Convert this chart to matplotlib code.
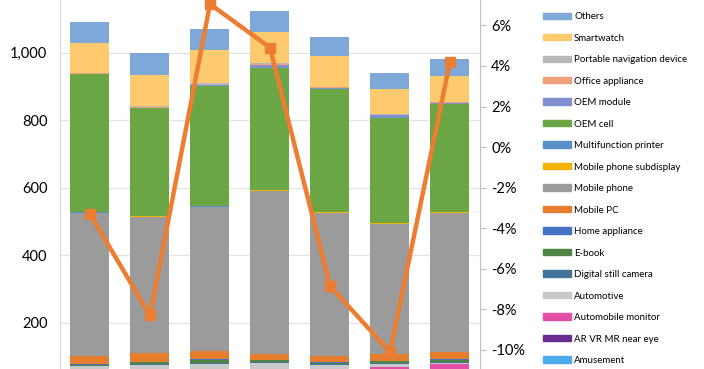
import numpy as np
import matplotlib
matplotlib.use("Agg")
import matplotlib.pyplot as plt
from matplotlib.patches import Patch

plt.rcParams["font.family"] = ["Lato", "DejaVu Sans"]

# ---------------------------------------------------------------------------
# Data (stack order bottom -> top), 7 periods; bottom of chart is cropped
# ---------------------------------------------------------------------------
categories = ["Amusement", "AR VR MR near eye", "Automobile monitor", "Automotive",
              "Digital still camera", "E-book", "Home appliance", "Mobile PC",
              "Mobile phone", "Mobile phone subdisplay", "Multifunction printer",
              "OEM cell", "OEM module", "Office appliance",
              "Portable navigation device", "Smartwatch", "Others"]

amusement     = [10, 10, 10, 10, 10, 10, 10]
ar_vr         = [2, 2, 2, 2, 2, 2, 2]
auto_monitor  = [5, 5, 52, 5, 5, 56, 64.7]
automotive    = [54, 58, 13.6, 64.5, 57.7, 9.6, 4.8]
dsc           = [1, 2, 3, 2, 2, 2, 2]
ebook         = [4, 6, 10, 5, 5, 7, 7]
home_app      = [1, 1, 1, 1, 1, 1, 1]
mobile_pc     = [24, 25, 25.4, 17.5, 19.3, 18.4, 20.8]
mobile_phone  = [423, 405, 425, 484, 423, 386.5, 412.7]
subdisplay    = [2, 2, 2, 2, 2, 2, 2]
mfp           = [1, 1, 1, 1, 1, 1, 1]
oem_cell      = [409, 318, 356, 360, 363.5, 310.5, 319]
oem_module    = [2, 2, 2, 10, 5, 8, 5]
office        = [0.5, 1, 1, 1, 1, 1, 1]
pnd           = [0.5, 4, 5, 3.6, 1.5, 2, 2]
smartwatch    = [91, 91, 99, 91.4, 92, 76, 76]
others        = [60, 67, 62, 63, 54, 48, 49]

growth_pct = [-3.3, -8.3, 7.05, 4.9, -6.85, -10.1, 4.2]

series = [amusement, ar_vr, auto_monitor, automotive, dsc, ebook, home_app,
          mobile_pc, mobile_phone, subdisplay, mfp, oem_cell, oem_module,
          office, pnd, smartwatch, others]

colors = ["#4DADEA", "#6A2C91", "#E44EA7", "#C9C9C9", "#43729B", "#4E8542",
          "#4472C4", "#E67E2E", "#9B9B9B", "#F2B400", "#5B8FC7", "#6AA644",
          "#7F8FD0", "#F0A07A", "#B8B8B8", "#FDCB6E", "#7EA8D8"]

# ---------------------------------------------------------------------------
fig = plt.figure(figsize=(7.04, 3.69), dpi=100)
ax = fig.add_axes([60 / 704, 0, 420 / 704, 1])

x = np.arange(len(others))
bottom = np.zeros(len(x))
for vals, col in zip(series, colors):
    ax.bar(x, vals, 0.65, bottom=bottom, color=col, zorder=2)
    bottom += np.array(vals)

ax.set_xlim(-0.5, 6.5)
ax.set_ylim(62.8, 1156)
ax.set_yticks([200, 400, 600, 800, 1000])
ax.set_yticklabels(["200", "400", "600", "800", "1,000"])
ax.tick_params(axis="y", length=0, pad=9, labelsize=10.5)
ax.set_xticks([])
ax.grid(axis="y", color="#E3E3E3", lw=0.9, zorder=0)
for s in ["top", "bottom", "right"]:
    ax.spines[s].set_visible(False)
ax.spines["left"].set_color("#D9D9D9")

ax2 = ax.twinx()
ax2.plot(x, growth_pct, color="#ED7D31", lw=3.2, marker="s", ms=7, zorder=3)
ax2.set_ylim(-10.94, 7.25)
ax2.set_yticks([6, 4, 2, 0, -2, -4, -6, -8, -10])
ax2.set_yticklabels([f"{v}%" for v in [6, 4, 2, 0, -2, -4, -6, -8, -10]])
ax2.tick_params(axis="y", length=4, color="#BFBFBF", pad=4, labelsize=10.5)
for s in ["top", "bottom", "left"]:
    ax2.spines[s].set_visible(False)
ax2.spines["right"].set_color("#BFBFBF")

handles = [Patch(color=c, label=l) for c, l in zip(colors, categories)][::-1]
fig.legend(handles=handles, loc="upper left", bbox_to_anchor=(543 / 704, 0.967),
           frameon=False, fontsize=7, handlelength=2.9, handleheight=0.65,
           handletextpad=0.3, labelspacing=1.285, borderpad=0, borderaxespad=0)

fig.savefig("out.png", dpi=100)
